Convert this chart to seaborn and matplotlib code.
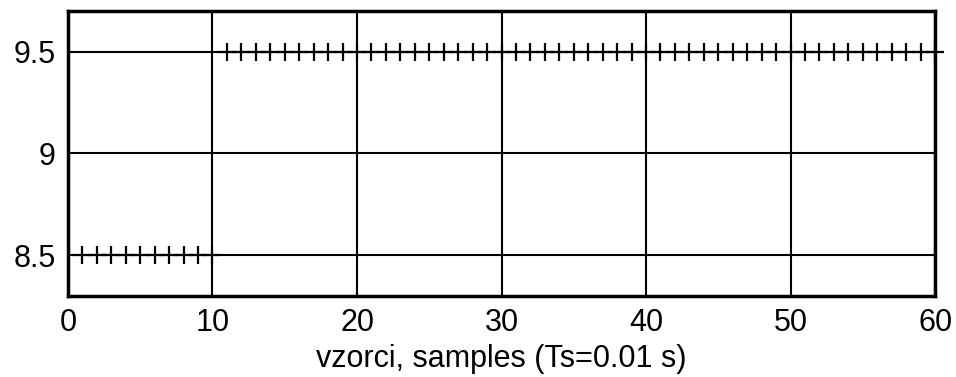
import numpy as np
import pandas as pd
import matplotlib
matplotlib.use("Agg")
import matplotlib.pyplot as plt
import seaborn as sns

# samples and signal values
samples = list(range(1, 61))
values = [8.5] * 10 + [9.5] * 50
x_ticks = [0, 10, 20, 30, 40, 50, 60]
y_ticks = [8.5, 9, 9.5]
y_tick_labels = ["8.5", "9", "9.5"]
x_label = "vzorci, samples (Ts=0.01 s)"

sns.set_style("white")
plt.rcParams['font.family'] = ['Liberation Sans', 'DejaVu Sans']

df = pd.DataFrame({"sample": samples, "value": values})

fig = plt.figure(figsize=(9.56, 3.77), dpi=100)
ax = fig.add_axes([0.0711, 0.2149, 0.907, 0.756])

sns.lineplot(data=df, x="sample", y="value", ax=ax, color="black",
             marker="+", linestyle="none", markersize=13,
             markeredgewidth=1.6, markeredgecolor="black",
             clip_on=False, zorder=3)

ax.set_xlim(0, 60)
ax.set_ylim(8.3, 9.7)
ax.set_xticks(x_ticks)
ax.set_yticks(y_ticks)
ax.set_yticklabels(y_tick_labels)
ax.tick_params(length=0, labelsize=22, pad=9, colors="black")
ax.grid(True, color="black", linewidth=1.5)
ax.set_axisbelow(True)
for s in ax.spines.values():
    s.set_color("black")
    s.set_linewidth(2.5)

ax.set_xlabel(x_label, fontsize=22, labelpad=4, color="black")
ax.set_ylabel("")

fig.savefig("out.png", dpi=100)
